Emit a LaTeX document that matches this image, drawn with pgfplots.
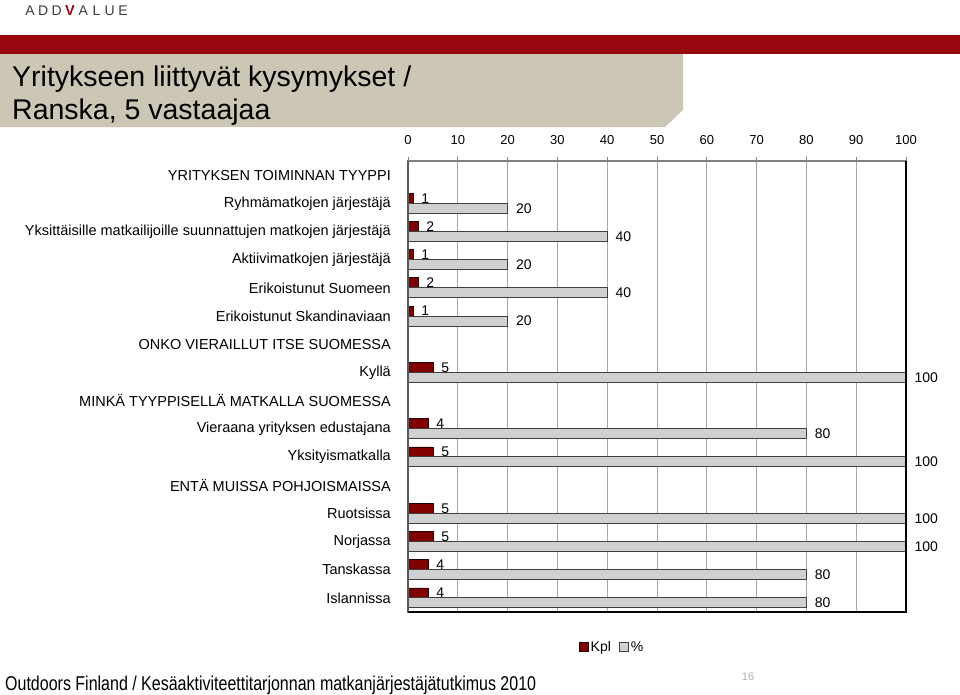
\documentclass[border=0pt]{standalone}
\usepackage{pgfplots}
\pgfplotsset{compat=1.18}
\usepackage{pgfplotstable}
\usepackage{fontspec}
\setmainfont{Liberation Sans}
\newfontfamily\narrowfont[FakeStretch=0.8]{Liberation Sans}
\definecolor{kpl}{RGB}{128,0,0}
\definecolor{pct}{RGB}{208,208,208}
\definecolor{stripe}{RGB}{153,8,14}
\definecolor{beige}{RGB}{204,198,181}
\definecolor{logogray}{RGB}{60,60,60}

\pgfplotstableread{
row kpl pct
2 1 20
3 2 40
4 1 20
5 2 40
6 1 20
8 5 100
10 4 80
11 5 100
13 5 100
14 5 100
15 4 80
16 4 80
}\data

\begin{document}
\begin{tikzpicture}
\useasboundingbox (0pt,0pt) rectangle (960pt,-694pt);
\begin{scope}[x=1pt,y=-1pt]
  % logo
  \foreach \l [count=\i from 0] in {A,D,D,V,A,L,U,E}{
    \ifnum\i=3
      \node[anchor=base, inner sep=0pt, text=stripe, font=\fontsize{14.5}{16}\selectfont\bfseries] at (30+13.3*\i,15) {\l};
    \else
      \node[anchor=base, inner sep=0pt, text=logogray, font=\fontsize{14}{16}\selectfont] at (30+13.3*\i,15) {\l};
    \fi
  }
  \fill[stripe] (0,35) rectangle (960,54);
  \fill[beige] (0,54) -- (683,54) -- (683,110) -- (665,127) -- (0,127) -- cycle;
  \node[anchor=base west, inner sep=0pt, font=\fontsize{28.5}{33}\selectfont] at (12,86) {Yritykseen liittyvät kysymykset /};
  \node[anchor=base west, inner sep=0pt, font=\fontsize{28.5}{33}\selectfont] at (12,119) {Ranska, 5 vastaajaa};
  \node[anchor=base west, inner sep=0pt, font=\narrowfont\fontsize{20}{22}\selectfont] at (5,690) {Outdoors Finland / Kesäaktiviteettitarjonnan matkanjärjestäjätutkimus 2010};
  \node[inner sep=0pt, text=gray!60, font=\fontsize{11}{13}\selectfont] at (748,677) {16};
\end{scope}
\begin{axis}[
  at={(408pt,-612pt)}, anchor=south west,
  scale only axis, width=498pt, height=451pt,
  xbar, bar width=10pt,
  xmin=0, xmax=100, ymin=0.5, ymax=16.5, y dir=reverse,
  xtick={0,10,...,100}, xticklabel pos=upper, xtick pos=upper,
  tick align=outside, major tick length=4pt,
  xtick style={gray, line width=0.8pt},
  xticklabel style={font=\fontsize{13}{15}\selectfont, inner sep=0pt, yshift=12pt},
  /pgf/number format/assume math mode=true,
  ytick={1,...,16},
  yticklabels={YRITYKSEN TOIMINNAN TYYPPI, Ryhmämatkojen järjestäjä, Yksittäisille matkailijoille suunnattujen matkojen järjestäjä, Aktiivimatkojen järjestäjä, Erikoistunut Suomeen, Erikoistunut Skandinaviaan, ONKO VIERAILLUT ITSE SUOMESSA, Kyllä, MINKÄ TYYPPISELLÄ MATKALLA SUOMESSA, Vieraana yrityksen edustajana, Yksityismatkalla, ENTÄ MUISSA POHJOISMAISSA, Ruotsissa, Norjassa, Tanskassa, Islannissa},
  ytick style={draw=none},
  yticklabel style={font=\fontsize{14.5}{16}\selectfont, inner sep=0pt, xshift=-13pt},
  xmajorgrids, grid style={gray!70, line width=0.8pt},
  axis line style={gray, line width=1.2pt},
  nodes near coords, point meta=x,
  every node near coord/.append style={font=\fontsize{14}{16}\selectfont, anchor=west, inner sep=0pt, xshift=8pt, text=black},
  legend style={at={(0.41,-0.0776)}, anchor=center, draw=none, fill=none, legend columns=2, font=\fontsize{14}{16}\selectfont, /tikz/every even column/.append style={column sep=6pt}},
  legend image code/.code={\draw[#1] (0pt,-4.5pt) rectangle (9pt,4.5pt);},
  clip=false,
]
\addplot[fill=kpl, draw=black!70!kpl, line width=0.8pt, bar shift=5pt] table[x=kpl, y=row] {\data};
\addplot[fill=pct, draw=black!75, line width=1pt, bar shift=-5pt] table[x=pct, y=row] {\data};
\legend{Kpl, \%}
\draw[black, line width=2.5pt] (axis description cs:1,1) -- (axis description cs:1,0) -- (axis description cs:0,0);
\draw[black!65, line width=2pt] (axis description cs:0,0) -- (axis description cs:0,1);
\end{axis}
\end{tikzpicture}
\end{document}
